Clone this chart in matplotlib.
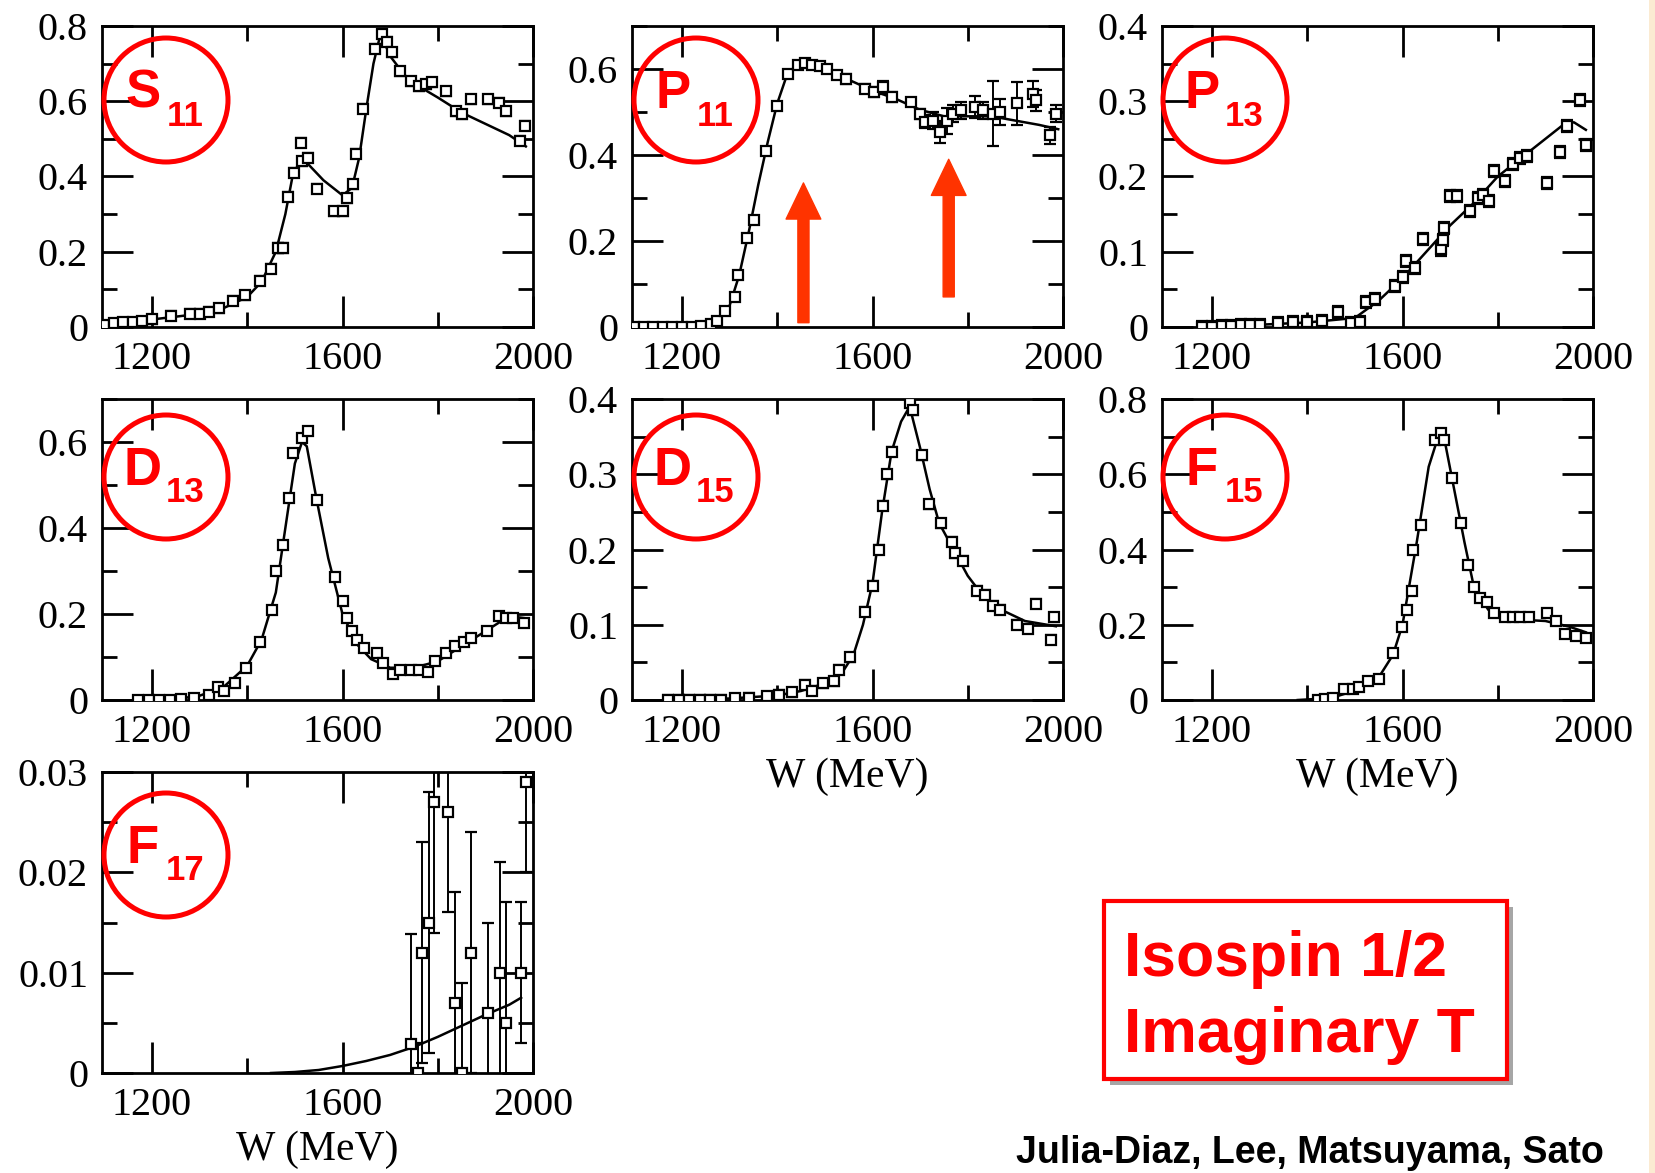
import matplotlib
matplotlib.use("Agg")
import matplotlib.pyplot as plt
from matplotlib.patches import Ellipse, Rectangle
from matplotlib.ticker import MultipleLocator, FuncFormatter

W, H = 1656, 1173

# ---- data: S11 ----
s11_x = [1100, 1120, 1140, 1160, 1180, 1200, 1240, 1280, 1300, 1320, 1340, 1370, 1395, 1427, 1449,
         1464, 1475, 1486, 1499, 1512, 1515, 1527, 1547, 1583, 1601, 1609, 1622, 1629, 1642, 1668,
         1682, 1694, 1703, 1720, 1743, 1761, 1776, 1787, 1817, 1839, 1850, 1869, 1906, 1929, 1944,
         1973, 1984]
s11_y = [0.005, 0.01, 0.012, 0.013, 0.015, 0.02, 0.03, 0.035, 0.035, 0.04, 0.05, 0.07, 0.085, 0.123, 0.155,
         0.21, 0.21, 0.346, 0.41, 0.49, 0.44, 0.45, 0.368, 0.307, 0.307, 0.342, 0.38, 0.46, 0.58, 0.74,
         0.78, 0.758, 0.73, 0.68, 0.653, 0.64, 0.645, 0.65, 0.627, 0.574, 0.565, 0.605, 0.605, 0.596, 0.574,
         0.495, 0.535]
s11_mx = [1100, 1200, 1300, 1350, 1400, 1430, 1460, 1480, 1495, 1510, 1530, 1560, 1600, 1620, 1635,
          1650, 1665, 1680, 1700, 1730, 1760, 1800, 1850, 1900, 1950, 1985]
s11_my = [0.005, 0.02, 0.035, 0.05, 0.08, 0.12, 0.2, 0.3, 0.4, 0.44, 0.43, 0.39, 0.35, 0.37, 0.45,
          0.58, 0.7, 0.78, 0.72, 0.67, 0.64, 0.61, 0.57, 0.54, 0.51, 0.48]

# ---- data: P11 ----
p11_x = [1100, 1120, 1140, 1160, 1180, 1200, 1220, 1240, 1260, 1274, 1290, 1311, 1318, 1337, 1352,
         1376, 1399, 1422, 1444, 1459, 1474, 1489, 1504, 1526, 1544, 1585, 1604, 1622, 1641, 1681,
         1700, 1711, 1726, 1741, 1756, 1770, 1785, 1815, 1833, 1852, 1867, 1904, 1937, 1944, 1973,
         1985]
p11_y = [0, 0, 0, 0, 0, 0, 0.001, 0.003, 0.006, 0.015, 0.038, 0.07, 0.12, 0.208, 0.25,
         0.41, 0.515, 0.588, 0.61, 0.615, 0.61, 0.607, 0.6, 0.585, 0.577, 0.554, 0.546, 0.558, 0.535, 0.523,
         0.496, 0.477, 0.48, 0.454, 0.48, 0.496, 0.504, 0.512, 0.504, 0.496, 0.5, 0.52, 0.542, 0.527, 0.446,
         0.496]
p11_err = [0.005] * 24 + [0.012, 0.01, 0.012, 0.015, 0.012, 0.01,
                          0.012, 0.015, 0.02, 0.025, 0.03, 0.02, 0.02, 0.025, 0.02, 0.075, 0.03, 0.05, 0.03,
                          0.025, 0.02, 0.02]
p11_mx = [1100, 1200, 1250, 1280, 1300, 1320, 1340, 1360, 1380, 1400, 1420, 1440, 1460, 1500, 1550,
          1600, 1650, 1700, 1750, 1800, 1850, 1900, 1950, 1990]
p11_my = [0, 0, 0.005, 0.02, 0.05, 0.12, 0.22, 0.33, 0.43, 0.52, 0.585, 0.61, 0.615, 0.6, 0.575,
          0.55, 0.53, 0.505, 0.49, 0.49, 0.49, 0.48, 0.47, 0.46]
arrow_x = [1455, 1760]
arrow_base = [0.01, 0.07]
arrow_tip = [0.335, 0.39]

# ---- data: P13 ----
p13_x = [1180, 1200, 1220, 1240, 1260, 1280, 1300, 1338, 1370, 1400, 1431, 1465, 1492, 1511, 1523,
         1542, 1585, 1600, 1608, 1627, 1642, 1681, 1685, 1688, 1700, 1715, 1742, 1758, 1769, 1781,
         1792, 1815, 1831, 1846, 1862, 1904, 1931, 1946, 1973, 1985]
p13_y = [0, 0, 0.001, 0.001, 0.002, 0.002, 0.003, 0.005, 0.006, 0.007, 0.008, 0.02, 0.005, 0.007, 0.033,
         0.037, 0.055, 0.066, 0.088, 0.079, 0.117, 0.103, 0.115, 0.132, 0.174, 0.174, 0.154, 0.172, 0.176, 0.167,
         0.207, 0.194, 0.216, 0.225, 0.227, 0.192, 0.233, 0.267, 0.302, 0.242]
p13_mx = [1180, 1300, 1400, 1500, 1550, 1600, 1650, 1700, 1750, 1800, 1850, 1900, 1940, 1960, 1985]
p13_my = [0, 0.003, 0.006, 0.012, 0.035, 0.065, 0.1, 0.135, 0.165, 0.2, 0.225, 0.25, 0.27, 0.272, 0.262]

# ---- data: D13 ----
d13_x = [1170, 1193, 1215, 1237, 1260, 1289, 1319, 1338, 1352, 1375, 1397, 1427, 1453, 1460, 1475,
         1488, 1497, 1514, 1527, 1546, 1585, 1601, 1609, 1620, 1631, 1646, 1672, 1684, 1706, 1721,
         1743, 1761, 1780, 1795, 1817, 1836, 1855, 1870, 1903, 1929, 1944, 1959, 1981]
d13_y = [0, 0, 0, 0, 0.002, 0.005, 0.012, 0.03, 0.02, 0.04, 0.075, 0.135, 0.21, 0.3, 0.36,
         0.47, 0.575, 0.61, 0.625, 0.465, 0.285, 0.23, 0.19, 0.16, 0.14, 0.12, 0.11, 0.085, 0.06, 0.07,
         0.07, 0.07, 0.065, 0.09, 0.11, 0.125, 0.135, 0.145, 0.16, 0.195, 0.19, 0.19, 0.18]
d13_mx = [1170, 1250, 1300, 1350, 1400, 1430, 1460, 1480, 1500, 1515, 1525, 1545, 1570, 1600, 1630,
          1660, 1700, 1750, 1800, 1850, 1900, 1950, 1985]
d13_my = [0, 0.002, 0.01, 0.03, 0.08, 0.14, 0.25, 0.4, 0.55, 0.6, 0.59, 0.47, 0.33, 0.2, 0.13,
          0.095, 0.075, 0.075, 0.09, 0.125, 0.16, 0.195, 0.19]

# ---- data: D15 ----
d15_x = [1170, 1193, 1215, 1237, 1259, 1281, 1311, 1341, 1378, 1404, 1430, 1459, 1474, 1496, 1519,
         1530, 1552, 1585, 1600, 1613, 1621, 1630, 1641, 1678, 1685, 1704, 1719, 1744, 1767, 1774,
         1789, 1819, 1837, 1852, 1867, 1904, 1926, 1944, 1974, 1981]
d15_y = [0, 0, 0, 0, 0, 0, 0.002, 0.003, 0.005, 0.007, 0.01, 0.02, 0.012, 0.022, 0.025,
         0.04, 0.057, 0.117, 0.152, 0.2, 0.258, 0.3, 0.33, 0.395, 0.385, 0.325, 0.26, 0.235, 0.21, 0.195,
         0.185, 0.145, 0.14, 0.125, 0.12, 0.1, 0.095, 0.128, 0.08, 0.11]
d15_mx = [1170, 1300, 1400, 1450, 1500, 1540, 1560, 1580, 1600, 1620, 1640, 1660, 1678, 1700, 1720,
          1740, 1770, 1800, 1830, 1870, 1920, 1985]
d15_my = [0, 0.002, 0.006, 0.012, 0.022, 0.04, 0.06, 0.1, 0.155, 0.25, 0.33, 0.37, 0.39, 0.335, 0.28,
          0.235, 0.2, 0.165, 0.14, 0.12, 0.105, 0.098]

# ---- data: F15 ----
f15_x = [1423, 1438, 1454, 1477, 1496, 1508, 1527, 1550, 1581, 1598, 1610, 1619, 1623, 1638, 1669,
         1681, 1688, 1704, 1723, 1738, 1750, 1762, 1777, 1792, 1815, 1831, 1846, 1865, 1904, 1923,
         1942, 1965, 1985]
f15_y = [0, 0.003, 0.005, 0.03, 0.03, 0.035, 0.05, 0.055, 0.125, 0.195, 0.24, 0.29, 0.4, 0.465, 0.69,
         0.71, 0.69, 0.59, 0.47, 0.36, 0.3, 0.27, 0.26, 0.23, 0.22, 0.22, 0.22, 0.22, 0.23, 0.21,
         0.175, 0.17, 0.165]
f15_mx = [1380, 1450, 1500, 1550, 1580, 1600, 1630, 1655, 1675, 1690, 1710, 1730, 1750, 1780, 1820,
          1900, 1950, 1985]
f15_my = [0, 0.005, 0.025, 0.06, 0.12, 0.2, 0.42, 0.62, 0.7, 0.68, 0.55, 0.42, 0.3, 0.24, 0.215,
          0.21, 0.195, 0.18]

# ---- data: F17 ----
f17_x = [1743, 1758, 1767, 1782, 1793, 1822, 1837, 1850, 1869, 1906, 1930, 1944, 1975, 1985]
f17_y = [0.0029, 0.0, 0.012, 0.015, 0.027, 0.026, 0.007, 0.0, 0.012, 0.006, 0.010, 0.005, 0.010, 0.029]
f17_err = [0.011, 0.003, 0.011, 0.013, 0.013, 0.010, 0.011, 0.009, 0.012, 0.009, 0.011, 0.012, 0.007, 0.009]
f17_mx = [1450, 1500, 1550, 1600, 1650, 1700, 1750, 1800, 1850, 1900, 1950, 1975]
f17_my = [0, 0.0001, 0.0003, 0.0007, 0.0012, 0.0018, 0.0026, 0.0036, 0.0047, 0.0058, 0.0068, 0.0075]

# panel boxes in pixels: left, top, width, height
col_left = [102, 632, 1162]
row_top = [26, 399, 772]
ax_w, ax_h = 431, 301

panels = [
    # letter, sub, row, col, x, y, err, model x, model y, ymax, major, minor, circle centre
    ("S", "11", 0, 0, s11_x, s11_y, 0.012, s11_mx, s11_my, 0.8, 0.2, 0.1, (166, 100)),
    ("P", "11", 0, 1, p11_x, p11_y, p11_err, p11_mx, p11_my, 0.7, 0.2, 0.1, (696, 100)),
    ("P", "13", 0, 2, p13_x, p13_y, 0.008, p13_mx, p13_my, 0.4, 0.1, 0.05, (1225, 100)),
    ("D", "13", 1, 0, d13_x, d13_y, 0.008, d13_mx, d13_my, 0.7, 0.2, 0.1, (166, 477)),
    ("D", "15", 1, 1, d15_x, d15_y, 0.006, d15_mx, d15_my, 0.4, 0.1, 0.05, (696, 477)),
    ("F", "15", 1, 2, f15_x, f15_y, 0.01, f15_mx, f15_my, 0.8, 0.2, 0.1, (1225, 477)),
    ("F", "17", 2, 0, f17_x, f17_y, f17_err, f17_mx, f17_my, 0.03, 0.01, 0.005, (166, 855)),
]

serif = "Liberation Serif"
sans = "Liberation Sans"

fig = plt.figure(figsize=(W / 100, H / 100), dpi=100)
fig.patch.set_facecolor("white")

fmt = FuncFormatter(lambda v, p: f"{v:g}")

axes = {}
for letter, sub, r, c, x, y, err, mx, my, ymax, major, minor, cc in panels:
    l, t = col_left[c], row_top[r]
    ax = fig.add_axes([l / W, 1 - (t + ax_h) / H, ax_w / W, ax_h / H])
    ax.plot(mx, my, color="black", lw=1.8, zorder=2)
    ax.errorbar(x, y, yerr=err, fmt="s", mfc="white", mec="black", mew=1.6, ms=7,
                ecolor="black", elinewidth=1.4, capsize=4, capthick=1.4, zorder=3)
    ax.set_xlim(1095, 2000)
    ax.set_ylim(0, ymax)
    ax.xaxis.set_major_locator(MultipleLocator(400))
    ax.xaxis.set_minor_locator(MultipleLocator(200))
    ax.yaxis.set_major_locator(MultipleLocator(major))
    ax.yaxis.set_minor_locator(MultipleLocator(minor))
    ax.yaxis.set_major_formatter(fmt)
    ax.tick_params(which="both", direction="in", top=True, right=True, width=2,
                   labelsize=29, pad=10)
    ax.tick_params(which="major", length=22)
    ax.tick_params(which="minor", length=11)
    for lab in ax.get_xticklabels() + ax.get_yticklabels():
        lab.set_fontfamily(serif)
    for sp in ax.spines.values():
        sp.set_linewidth(2)
    axes[(r, c)] = ax

    # red circled label
    cx, cy = cc
    fig.add_artist(Ellipse((cx / W, 1 - cy / H), 124 / W, 124 / H, transform=fig.transFigure,
                           fill=False, edgecolor="#FF0000", lw=3.6, zorder=10))
    fig.text((cx - 23) / W, 1 - (cy - 6) / H, letter, color="#FF0000", fontsize=38,
             fontweight="bold", family=sans, ha="center", va="center", zorder=11)
    fig.text((cx + 19) / W, 1 - (cy + 16) / H, sub, color="#FF0000", fontsize=25,
             fontweight="bold", family=sans, ha="center", va="center", zorder=11)

# x axis titles
for key in [(1, 1), (1, 2), (2, 0)]:
    axes[key].set_xlabel("W (MeV)", fontsize=30, family=serif, labelpad=5)

# arrows in P11 panel
for ax_, b, tp in zip(arrow_x, arrow_base, arrow_tip):
    axes[(0, 1)].annotate("", xy=(ax_, tp), xytext=(ax_, b),
                          arrowprops=dict(color="#FF3300", width=8, headwidth=25,
                                          headlength=26, shrink=0))

# Isospin box with shadow
bx0, by0, bx1, by1 = 1104, 901, 1507, 1079
fig.add_artist(Rectangle(((bx0 + 6) / W, 1 - (by1 + 6) / H), (bx1 - bx0) / W, (by1 - by0) / H,
                         transform=fig.transFigure, facecolor="#A6A6A6", edgecolor="none", zorder=5))
fig.add_artist(Rectangle((bx0 / W, 1 - by1 / H), (bx1 - bx0) / W, (by1 - by0) / H,
                         transform=fig.transFigure, facecolor="white", edgecolor="#FF0000",
                         lw=3, zorder=6))
fig.text(1124 / W, 1 - 976 / H, "Isospin 1/2", color="#FF0000", fontsize=45, fontweight="bold",
         family=sans, ha="left", va="baseline", zorder=7)
fig.text(1124 / W, 1 - 1052 / H, "Imaginary T", color="#FF0000", fontsize=45, fontweight="bold",
         family=sans, ha="left", va="baseline", zorder=7)

fig.text(1016 / W, 1 - 1163 / H, "Julia-Diaz, Lee, Matsuyama, Sato", color="black", fontsize=27,
         fontweight="bold", family=sans, ha="left", va="baseline")

# beige strip at right edge
fig.add_artist(Rectangle((1649 / W, 0), 7 / W, 1, transform=fig.transFigure,
                         facecolor="#FBEBD2", edgecolor="none"))

fig.savefig("out.png", dpi=100)
